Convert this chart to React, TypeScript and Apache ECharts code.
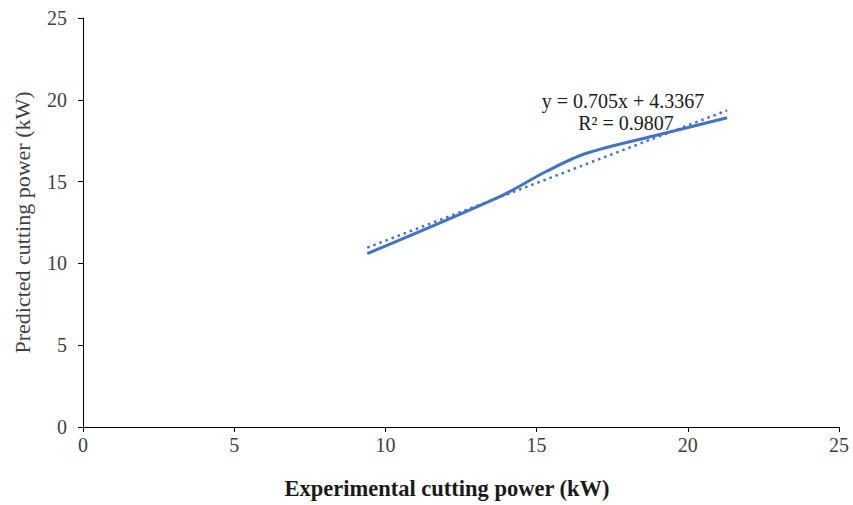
import React, { useEffect, useRef } from "react";
import * as echarts from "echarts";

// Measured vs predicted cutting power (kW)
const experimental = [9.4, 13.8, 15.3, 16.6, 18.9, 21.3];
const predicted = [10.6, 14.1, 15.6, 16.7, 17.8, 18.9];

// Linear trend line fitted to the data
const slope = 0.705;
const intercept = 4.3367;
const rSquared = 0.9807;

const axisTicks = [0, 5, 10, 15, 20, 25];

const serif = "'Liberation Serif', 'Times New Roman', serif";
const blue = "#4472C4";

export default function App() {
  const ref = useRef<HTMLDivElement>(null);

  useEffect(() => {
    if (!ref.current) return;
    const chart = echarts.init(ref.current, undefined, { renderer: "svg" });

    const xMin = experimental[0];
    const xMax = experimental[experimental.length - 1];
    const trend = [
      [xMin, slope * xMin + intercept],
      [xMax, slope * xMax + intercept],
    ];

    const axisCommon = {
      min: axisTicks[0],
      max: axisTicks[axisTicks.length - 1],
      interval: 5,
      splitLine: { show: false },
      axisLine: { show: true, lineStyle: { color: "#000", width: 1 } },
      axisTick: { show: true, length: 5, lineStyle: { color: "#000" } },
      axisLabel: { color: "#404040", fontFamily: serif, fontSize: 20 },
    };

    chart.setOption({
      animation: false,
      grid: { left: 83, right: 14, top: 18, bottom: 77, containLabel: false },
      xAxis: {
        type: "value",
        ...axisCommon,
        axisLabel: { ...axisCommon.axisLabel, margin: 8 },
        name: "Experimental cutting power (kW)",
        nameLocation: "middle",
        nameGap: 50,
        nameTextStyle: {
          fontFamily: serif,
          fontSize: 22.5,
          fontWeight: "bold",
          color: "#1a1a1a",
          padding: [0, 28, 0, 0],
        },
      },
      yAxis: {
        type: "value",
        ...axisCommon,
        axisLabel: { ...axisCommon.axisLabel, margin: 16 },
        name: "Predicted cutting power (kW)",
        nameLocation: "middle",
        nameGap: 50,
        nameTextStyle: { fontFamily: serif, fontSize: 22, color: "#404040" },
      },
      series: [
        {
          type: "line",
          data: experimental.map((x, i) => [x, predicted[i]]),
          smooth: 0.3,
          showSymbol: false,
          lineStyle: { color: blue, width: 3 },
          z: 3,
        },
        {
          type: "line",
          data: trend,
          showSymbol: false,
          lineStyle: { color: blue, width: 2.5, type: [2.5, 4] },
          z: 2,
        },
      ],
      graphic: [
        {
          type: "text",
          x: 623,
          y: 101,
          style: {
            text: `y = ${slope}x + ${intercept}`,
            font: `20px ${serif}`,
            fill: "#1a1a1a",
            align: "center",
            verticalAlign: "middle",
          },
        },
        {
          type: "text",
          x: 626,
          y: 123,
          style: {
            text: `R² = ${rSquared}`,
            font: `20px ${serif}`,
            fill: "#1a1a1a",
            align: "center",
            verticalAlign: "middle",
          },
        },
      ],
    });

    return () => chart.dispose();
  }, []);

  return (
    <div
      ref={ref}
      style={{ width: 853, height: 505, position: "absolute", left: 0, top: 0 }}
    />
  );
}
